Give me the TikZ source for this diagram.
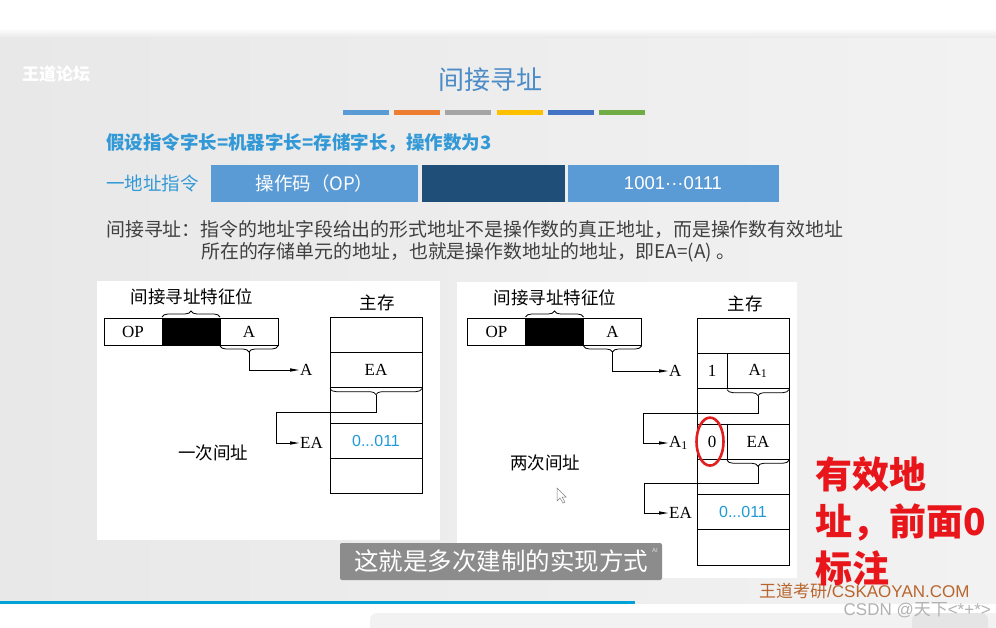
\documentclass[tikz,border=0pt]{standalone}
\usepackage{fontspec}
\setmainfont{Liberation Serif}
\newfontfamily\cjk{Noto Sans CJK SC}
\newfontfamily\arialf{Liberation Sans}
\usepackage{tikz}
\usetikzlibrary{arrows.meta,positioning,shapes.geometric,decorations.pathreplacing}

\newcommand\fsz[1]{\fontsize{#1}{#1}\selectfont}

\definecolor{titleblue}{HTML}{4A8BC8}
\definecolor{headblue}{HTML}{3399D6}
\definecolor{fieldblue}{HTML}{5B9BD5}
\definecolor{fielddark}{HTML}{1F4E79}
\definecolor{desc}{HTML}{404040}
\definecolor{valblue}{HTML}{1E9AD6}
\definecolor{ringred}{HTML}{E02020}
\definecolor{notered}{HTML}{E8161B}
\definecolor{wdbrown}{HTML}{B8662E}
\definecolor{slideL}{HTML}{E8E8E8}
\definecolor{slideR}{HTML}{F2F2F2}
\definecolor{subgray}{HTML}{8C8C8C}
\definecolor{barblue}{HTML}{5B9BD5}
\definecolor{barorange}{HTML}{ED7D31}
\definecolor{bargray}{HTML}{A5A5A5}
\definecolor{bargold}{HTML}{FFC000}
\definecolor{bardark}{HTML}{4472C4}
\definecolor{bargreen}{HTML}{70AD47}
\definecolor{progress}{HTML}{00A1D6}

\begin{document}
\begin{tikzpicture}[x=1pt, y=-1pt,
    field/.style={minimum height=37pt, inner sep=0pt, outer sep=0pt, text=white},
    insbox/.style={draw, line width=0.8pt, minimum width=58pt, minimum height=27pt,
      inner sep=0pt, outer sep=0pt, font=\fsz{17}},
    memrow/.style={draw, line width=0.8pt, minimum width=92pt, minimum height=35.3pt,
      inner sep=0pt, outer sep=0pt, font=\fsz{17}},
    lbl/.style={font=\fsz{17}, inner sep=1pt},
    cjklbl/.style={font=\cjk\fsz{17.5}, inner sep=0pt},
    brc/.style={decorate, decoration={brace, amplitude=6pt, raise=1pt}, line width=0.8pt},
    ptr/.style={-{Triangle[length=9pt, width=3.2pt]}, line width=0.8pt},
    val/.style={font=\arialf\fsz{16}, text=valblue},
    plain/.style={anchor=west, inner sep=0pt},
  ]
  \useasboundingbox (0,0) rectangle (996,628);

  % page, slide and figure backgrounds
  \fill[white] (0,0) rectangle (996,628);
  \shade[left color=slideL, right color=slideR] (0,38) rectangle (996,604);
  \shade[top color=white, bottom color=slideL] (0,28) rectangle (996,38);
  \fill[white] (97,281) rectangle (440,540);
  \fill[white] (457,282) rectangle (797,578);

  % slide head
  \node[plain, text=white, font=\cjk\bfseries\fsz{17}] (logo) at (22,74) {王道论坛};
  \node[text=titleblue, font=\cjk\fsz{26}] (title) at (490,80) {间接寻址};
  \foreach \c [count=\i from 0] in {barblue,barorange,bargray,bargold,bardark,bargreen}
    \fill[\c] ({343+51.2*\i},110) rectangle ++(46,5);

  \node[plain, text=headblue, font=\cjk\bfseries\fsz{18.5}] (premise) at (106,143)
    {假设指令字长=机器字长=存储字长，操作数为3};
  \node[plain, text=headblue, font=\cjk\fsz{18.5}] (kind) at (106,183) {一地址指令};

  % instruction word
  \node[field, fill=fieldblue, minimum width=207pt, font=\cjk\fsz{18.5}] (fOp) at (314.5,183.5) {操作码（OP）};
  \node[field, fill=fielddark, minimum width=143pt] (fBit) at (493,183.5) {};
  \node[field, fill=fieldblue, minimum width=211pt, font=\arialf\fsz{18.5}] (fAddr) at (673,183.5) {1001···0111};

  \node[plain, text=desc, font=\cjk\fsz{18.9}] (def1) at (106,230)
    {间接寻址：指令的地址字段给出的形式地址不是操作数的真正地址，而是操作数有效地址};
  \node[plain, text=desc, font=\cjk\fsz{18.9}] (def2) at (201,252)
    {所在的存储单元的地址，也就是操作数地址的地址，即EA=(A) 。};

  % one-level indirection
  \node[cjklbl] (tagL) at (192,297) {间接寻址特征位};
  \node[insbox] (opL) at (133,331.5) {OP};
  \node[insbox, fill=black, right=0pt of opL] (bitL) {};
  \node[insbox, right=0pt of bitL] (addrL) {A};
  \draw[brc] (bitL.north west) -- (bitL.north east);
  \draw[brc] (addrL.south east) -- (addrL.south west);
  \path (addrL.south) ++(0,7) coordinate (tipAL);

  \node[cjklbl] (memL) at (377,303) {主存};
  \node[memrow] (mL1) at (376,334.7) {};
  \node[memrow, below=0pt of mL1] (mL2) {EA};
  \node[memrow, below=0pt of mL2] (mL3) {};
  \node[memrow, below=0pt of mL3, val] (mL4) {0...011};
  \node[memrow, below=0pt of mL4] (mL5) {};
  \draw[brc] (mL2.south east) -- (mL2.south west);
  \path (mL2.south) ++(0,7) coordinate (tipEAL);

  \node[lbl, anchor=west] (aL) at (299,370) {A};
  \node[lbl, anchor=west] (eaL) at (299,443) {EA};
  \coordinate (bendL) at (276,412);
  \draw[ptr] (tipAL) |- (aL.west);
  \draw[ptr] (tipEAL) |- (bendL) |- (eaL.west);
  \node[cjklbl] (onceL) at (213,453) {一次间址};

  % two-level indirection
  \node[cjklbl] (tagR) at (555,298) {间接寻址特征位};
  \node[insbox] (opR) at (496.5,331.5) {OP};
  \node[insbox, fill=black, right=0pt of opR] (bitR) {};
  \node[insbox, right=0pt of bitR] (addrR) {A};
  \draw[brc] (bitR.north west) -- (bitR.north east);
  \draw[brc] (addrR.south east) -- (addrR.south west);
  \path (addrR.south) ++(0,7) coordinate (tipAR);

  \node[cjklbl] (memR) at (745,304) {主存};
  \node[memrow] (mR1) at (743,335.7) {};
  \node[memrow, below=0pt of mR1] (mR2) {};
  \node[memrow, below=0pt of mR2] (mR3) {};
  \node[memrow, below=0pt of mR3] (mR4) {};
  \node[memrow, below=0pt of mR4] (mR5) {};
  \node[memrow, below=0pt of mR5, val] (mR6) {0...011};
  \node[memrow, below=0pt of mR6] (mR7) {};
  \draw[line width=0.8pt] ([xshift=30pt]mR2.north west) -- ([xshift=30pt]mR2.south west);
  \draw[line width=0.8pt] ([xshift=30pt]mR4.north west) -- ([xshift=30pt]mR4.south west);
  \node[lbl] (flag1) at ([xshift=15pt]mR2.west) {1};
  \node[lbl] (ptrA1) at ([xshift=61pt]mR2.west) {A\textsubscript{1}};
  \node[lbl] (flag0) at ([xshift=15pt]mR4.west) {0};
  \node[lbl] (ptrEA) at ([xshift=61pt]mR4.west) {EA};
  \draw[brc] (mR2.south east) -- ([xshift=30pt]mR2.south west);
  \draw[brc] (mR4.south east) -- ([xshift=30pt]mR4.south west);
  \path (ptrA1 |- mR2.south) ++(0,7) coordinate (tipA1);
  \path (ptrEA |- mR4.south) ++(0,7) coordinate (tipEAR);

  \node[lbl, anchor=west] (aR) at (668,371) {A};
  \node[lbl, anchor=west] (a1R) at (668,443) {A\textsubscript{1}};
  \node[lbl, anchor=west] (eaR) at (668,513) {EA};
  \coordinate (bendR1) at (643,413);
  \coordinate (bendR2) at (644,483);
  \draw[ptr] (tipAR) |- (aR.west);
  \draw[ptr] (tipA1) |- (bendR1) |- (a1R.west);
  \draw[ptr] (tipEAR) |- (bendR2) |- (eaR.west);
  \node[draw=ringred, line width=2.6pt, ellipse, minimum width=27pt, minimum height=48pt,
    inner sep=0pt] (ring) at ([xshift=-2pt]flag0.center) {};
  \node[cjklbl] (twiceR) at (545,463) {两次间址};
  \filldraw[fill=white, draw=gray, line width=0.5pt] (557,488) -- (557,501) -- (560,498)
    -- (563,503) -- (565,502) -- (562,497) -- (566,497) -- cycle;

  % player bar
  \fill[white] (0,604) rectangle (996,628);
  \draw[progress, line width=3pt] (0,602) -- (635,602);
  \fill[black!5, rounded corners=7pt] (370,613) rectangle (1006,640);
  \fill[black!10, rounded corners=7pt] (912,613) rectangle (988,640);

  % overlays
  \node[plain, text=wdbrown, font=\arialf\fsz{17}] (wm) at (759,591) {\cjk 王道考研\arialf/CSKAOYAN.COM};
  \node[anchor=east, inner sep=0pt, text=black!30, font=\arialf\fsz{17}] (csdn) at (991,610) {CSDN @\cjk 天下\arialf<*+*>};
  \node[anchor=north west, inner sep=0pt, text=notered, font=\cjk\bfseries\fontsize{37}{47}\selectfont,
    align=left] (note) at (815,456) {有效地\\址，前面0\\标注};
  \node[fill=subgray, rounded corners=2pt, minimum width=322pt, minimum height=37pt, inner sep=0pt,
    text=white, font=\cjk\fsz{24.5}] (sub) at (501,561.5) {这就是多次建制的实现方式};
  \node[text=white!75!gray, font=\arialf\fsz{6}, inner sep=0pt] (ai) at (655,550) {AI};
\end{tikzpicture}
\end{document}
